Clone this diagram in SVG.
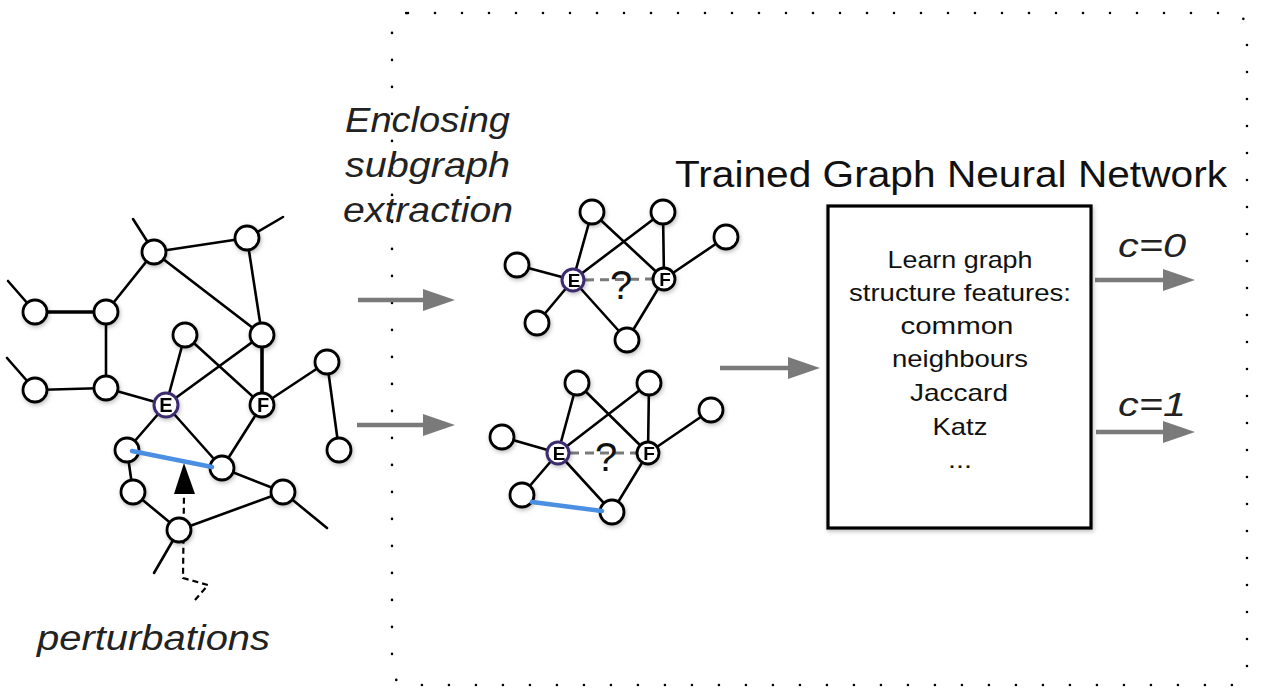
<svg xmlns="http://www.w3.org/2000/svg" width="1263" height="692" viewBox="0 0 1263 692">
<defs>
<style>
.edge{stroke:#000;stroke-width:2.6;fill:none;stroke-linecap:round}
.thick{stroke-width:3.6}
.blue{stroke:#4a8fe2;stroke-width:4.5;stroke-linecap:round}
.node{fill:#fff;stroke:#000;stroke-width:2.8}
.enode{fill:#fff;stroke:#3d2c70;stroke-width:3}
.lbl{font-family:"Liberation Sans",Arial,sans-serif;font-weight:bold;font-size:20px;fill:#000;text-anchor:middle}
.slbl{font-family:"Liberation Sans",Arial,sans-serif;font-weight:bold;font-size:19px;fill:#000;text-anchor:middle}
.dash{stroke:#7a7a7a;stroke-width:3;stroke-dasharray:9 6;fill:none}
.q{font-family:"Liberation Sans",Arial,sans-serif;font-size:40px;fill:#111;text-anchor:middle}
.garrow{stroke:#7a7a7a;stroke-width:4.5;fill:none}
.ital{font-family:"Liberation Sans",Arial,sans-serif;font-style:italic;fill:#222}
.box{font-family:"Liberation Sans",Arial,sans-serif;font-size:24px;fill:#111;text-anchor:middle}
.border{fill:none;stroke:#000;stroke-width:2.6;stroke-dasharray:0 27;stroke-linecap:round}
</style>
<marker id="gh" markerUnits="userSpaceOnUse" markerWidth="32" markerHeight="22" refX="2" refY="11" orient="auto">
<path d="M0,0 L32,11 L0,22 z" fill="#7a7a7a"/>
</marker>
<filter id="sh" x="-30%" y="-30%" width="160%" height="160%">
<feDropShadow dx="1" dy="2" stdDeviation="2" flood-color="#000" flood-opacity="0.25"/>
</filter>
</defs>
<rect width="1263" height="692" fill="#fff"/>

<rect id="container" class="border" x="392" y="13" width="855" height="672" rx="16"/>

<g id="connectors">
<line class="edge" x1="154" y1="252" x2="133" y2="219"/>
<line class="edge" x1="154" y1="252" x2="247" y2="238"/>
<line class="edge" x1="154" y1="252" x2="262" y2="335"/>
<line class="edge" x1="247" y1="238" x2="283" y2="217"/>
<line class="edge" x1="247" y1="238" x2="262" y2="335"/>
<line class="edge" x1="35" y1="312" x2="8" y2="281"/>
<line class="edge thick" x1="35" y1="312" x2="106" y2="312"/>
<line class="edge" x1="106" y1="312" x2="154" y2="252"/>
<line class="edge" x1="106" y1="312" x2="106" y2="388"/>
<line class="edge" x1="35" y1="390" x2="7" y2="358"/>
<line class="edge" x1="35" y1="390" x2="106" y2="388"/>
<line class="edge" x1="106" y1="388" x2="166" y2="405"/>
<line class="edge" x1="185" y1="335" x2="166" y2="405"/>
<line class="edge" x1="185" y1="335" x2="262" y2="405"/>
<line class="edge" x1="262" y1="335" x2="166" y2="405"/>
<line class="edge thick" x1="262" y1="335" x2="262" y2="405"/>
<line class="edge" x1="262" y1="405" x2="327" y2="362"/>
<line class="edge" x1="327" y1="362" x2="339" y2="450"/>
<line class="edge" x1="166" y1="405" x2="127" y2="450"/>
<line class="edge" x1="166" y1="405" x2="222" y2="468"/>
<line class="edge" x1="262" y1="405" x2="222" y2="468"/>
<line class="edge" x1="127" y1="450" x2="133" y2="492"/>
<line class="edge" x1="133" y1="492" x2="179" y2="530"/>
<line class="edge" x1="179" y1="530" x2="283" y2="492"/>
<line class="edge" x1="222" y1="468" x2="283" y2="492"/>
<line class="edge" x1="283" y1="492" x2="327" y2="528"/>
<line class="edge" x1="179" y1="530" x2="154" y2="573"/>
<line class="edge" x1="573" y1="280" x2="592" y2="212"/>
<line class="edge" x1="573" y1="280" x2="663" y2="212"/>
<line class="edge" x1="592" y1="212" x2="664" y2="279"/>
<line class="edge" x1="663" y1="212" x2="664" y2="279"/>
<line class="edge" x1="664" y1="279" x2="726" y2="237"/>
<line class="edge" x1="573" y1="280" x2="517" y2="265"/>
<line class="edge" x1="573" y1="280" x2="537" y2="323"/>
<line class="edge" x1="573" y1="280" x2="627" y2="340"/>
<line class="edge" x1="664" y1="279" x2="627" y2="340"/>
<line class="dash" x1="585" y1="280" x2="652" y2="279"/>
<line class="edge" x1="558" y1="453" x2="577" y2="383"/>
<line class="edge" x1="558" y1="453" x2="649" y2="383"/>
<line class="edge" x1="577" y1="383" x2="648" y2="453"/>
<line class="edge" x1="649" y1="383" x2="648" y2="453"/>
<line class="edge" x1="648" y1="453" x2="711" y2="410"/>
<line class="edge" x1="558" y1="453" x2="502" y2="437"/>
<line class="edge" x1="558" y1="453" x2="522" y2="495"/>
<line class="edge" x1="558" y1="453" x2="612" y2="512"/>
<line class="edge" x1="648" y1="453" x2="612" y2="512"/>
<line class="dash" x1="570" y1="453" x2="636" y2="453"/>
<line class="garrow" x1="358" y1="300" x2="425" y2="300" marker-end="url(#gh)"/>
<line class="garrow" x1="357" y1="425" x2="425" y2="425" marker-end="url(#gh)"/>
<line class="garrow" x1="720" y1="368" x2="790" y2="368" marker-end="url(#gh)"/>
<line class="garrow" x1="1095" y1="280" x2="1165" y2="280" marker-end="url(#gh)"/>
<line class="garrow" x1="1096" y1="432" x2="1165" y2="432" marker-end="url(#gh)"/>
<path d="M195,600 L208,585 L183,578 L184,494" fill="none" stroke="#000" stroke-width="2.2" stroke-dasharray="6 4"/>
<polygon points="184,463 174,494 195,494" fill="#000"/>
</g>

<g id="graph-nodes" filter="url(#sh)">
<circle class="node" cx="154" cy="252" r="12"/>
<circle class="node" cx="247" cy="238" r="12"/>
<circle class="node" cx="35" cy="312" r="12"/>
<circle class="node" cx="106" cy="312" r="12"/>
<circle class="node" cx="35" cy="390" r="12"/>
<circle class="node" cx="106" cy="388" r="12"/>
<circle class="node" cx="185" cy="335" r="12"/>
<circle class="node" cx="262" cy="335" r="12"/>
<circle class="node" cx="327" cy="362" r="12"/>
<circle class="node" cx="127" cy="450" r="12"/>
<circle class="node" cx="222" cy="468" r="12"/>
<circle class="node" cx="339" cy="450" r="12"/>
<circle class="node" cx="133" cy="492" r="12"/>
<circle class="node" cx="283" cy="492" r="12"/>
<circle class="node" cx="179" cy="530" r="12"/>
</g>
<line class="blue" x1="132" y1="451" x2="212" y2="467"/>
<g id="node-E-main" filter="url(#sh)">
<circle class="enode" cx="166" cy="405" r="12"/>
<text class="lbl" x="166" y="412">E</text>
</g>
<g id="node-F-main" filter="url(#sh)">
<circle class="node" cx="262" cy="405" r="12"/>
<text class="lbl" x="263" y="412">F</text>
</g>

<g id="subgraph-top-nodes" filter="url(#sh)">
<circle class="node" cx="592" cy="212" r="12"/>
<circle class="node" cx="663" cy="212" r="12"/>
<circle class="node" cx="726" cy="237" r="12"/>
<circle class="node" cx="517" cy="265" r="12"/>
<circle class="node" cx="537" cy="323" r="12"/>
<circle class="node" cx="627" cy="340" r="12"/>
</g>
<g id="node-E-top" filter="url(#sh)">
<circle class="enode" cx="573" cy="280" r="11"/>
<text class="slbl" x="574" y="287">E</text>
</g>
<g id="node-F-top" filter="url(#sh)">
<circle class="node" cx="664" cy="279" r="11"/>
<text class="slbl" x="665" y="286">F</text>
</g>
<text class="q" x="621" y="299">?</text>

<g id="subgraph-bottom-nodes" filter="url(#sh)">
<circle class="node" cx="577" cy="383" r="12"/>
<circle class="node" cx="649" cy="383" r="12"/>
<circle class="node" cx="711" cy="410" r="12"/>
<circle class="node" cx="502" cy="437" r="12"/>
<circle class="node" cx="522" cy="495" r="12"/>
<circle class="node" cx="612" cy="512" r="12"/>
</g>
<line class="blue" x1="532" y1="502" x2="602" y2="511"/>
<g id="node-E-bottom" filter="url(#sh)">
<circle class="enode" cx="558" cy="453" r="11"/>
<text class="slbl" x="559" y="460">E</text>
</g>
<g id="node-F-bottom" filter="url(#sh)">
<circle class="node" cx="648" cy="453" r="11"/>
<text class="slbl" x="649" y="460">F</text>
</g>
<text class="q" x="606" y="471">?</text>

<g id="gnn-box">
<rect x="828" y="206" width="263" height="322" fill="#fff" stroke="#000" stroke-width="3.2" filter="url(#sh)"/>
<text class="box" x="960" y="268" textLength="145" lengthAdjust="spacingAndGlyphs">Learn graph</text>
<text class="box" x="960" y="301" textLength="222" lengthAdjust="spacingAndGlyphs">structure features:</text>
<text class="box" x="957" y="334" textLength="113" lengthAdjust="spacingAndGlyphs">common</text>
<text class="box" x="960" y="367" textLength="136" lengthAdjust="spacingAndGlyphs">neighbours</text>
<text class="box" x="959" y="401" textLength="98" lengthAdjust="spacingAndGlyphs">Jaccard</text>
<text class="box" x="960" y="435" textLength="55" lengthAdjust="spacingAndGlyphs">Katz</text>
<text class="box" x="960" y="468" textLength="24" lengthAdjust="spacingAndGlyphs">...</text>
</g>

<g id="labels">
<text x="675" y="187" font-family="Liberation Sans, Arial, sans-serif" font-size="37" fill="#111" textLength="552" lengthAdjust="spacingAndGlyphs">Trained Graph Neural Network</text>
<text class="ital" x="345" y="132" font-size="35" textLength="165" lengthAdjust="spacingAndGlyphs">Enclosing</text>
<text class="ital" x="345" y="177" font-size="35" textLength="165" lengthAdjust="spacingAndGlyphs">subgraph</text>
<text class="ital" x="343" y="222" font-size="35" textLength="170" lengthAdjust="spacingAndGlyphs">extraction</text>
<text class="ital" x="37" y="650" font-size="35" textLength="233" lengthAdjust="spacingAndGlyphs">perturbations</text>
<text class="ital" x="1118" y="257" font-size="33" textLength="68" lengthAdjust="spacingAndGlyphs">c=0</text>
<text class="ital" x="1118" y="416" font-size="33" textLength="68" lengthAdjust="spacingAndGlyphs">c=1</text>
</g>
</svg>
